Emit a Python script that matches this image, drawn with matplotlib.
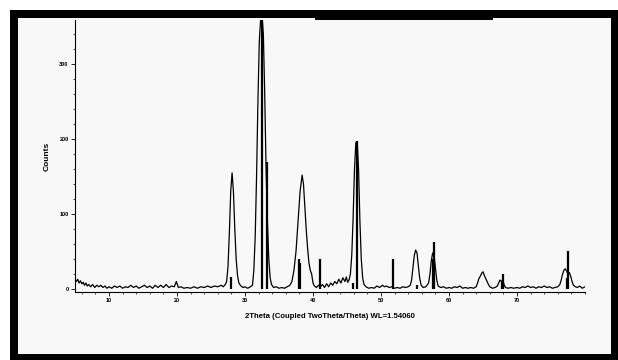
import matplotlib.pyplot as plt
from matplotlib.patches import Rectangle
from matplotlib.ticker import MultipleLocator

two_theta = [
    5.0, 5.2, 5.4, 5.6, 5.8, 6.0, 6.2, 6.4, 6.6, 6.8, 7.0, 7.3, 7.6, 7.9, 8.2,
    8.5, 8.8, 9.1, 9.4, 9.7, 10.0, 10.4, 10.8, 11.2, 11.6, 12.0, 12.4, 12.8,
    13.2, 13.6, 14.0, 14.4, 14.8, 15.2, 15.6, 16.0, 16.4, 16.8, 17.2, 17.6,
    18.0, 18.4, 18.8, 19.2, 19.6, 19.9, 20.2, 20.6, 21.0, 21.5, 22.0, 22.5,
    23.0, 23.5, 24.0, 24.5, 25.0, 25.5, 26.0, 26.5, 26.8, 27.1, 27.3, 27.5,
    27.7, 27.9, 28.1, 28.3, 28.5, 28.7, 28.9, 29.1, 29.4, 29.7, 30.0, 30.4,
    30.8, 31.1, 31.3, 31.5, 31.7, 31.9, 32.1, 32.3, 32.5, 32.7, 32.9, 33.1,
    33.3, 33.5, 33.7, 33.9, 34.2, 34.6, 35.0, 35.4, 35.8, 36.2, 36.6, 36.9,
    37.2, 37.5, 37.8, 38.1, 38.4, 38.6, 38.8, 39.0, 39.2, 39.4, 39.6, 39.8,
    40.0, 40.2, 40.5, 40.8, 41.1, 41.4, 41.7, 42.0, 42.3, 42.6, 42.9, 43.2,
    43.5, 43.8, 44.1, 44.4, 44.7, 44.9, 45.1, 45.3, 45.5, 45.7, 45.9, 46.1,
    46.3, 46.5, 46.7, 46.9, 47.1, 47.3, 47.5, 47.8, 48.2, 48.6, 49.0, 49.4,
    49.8, 50.2, 50.5, 50.8, 51.2, 51.6, 52.0, 52.4, 52.8, 53.2, 53.6, 54.0,
    54.3, 54.5, 54.7, 54.9, 55.1, 55.3, 55.5, 55.7, 55.9, 56.2, 56.6, 57.0,
    57.2, 57.4, 57.6, 57.8, 58.0, 58.2, 58.4, 58.8, 59.2, 59.6, 60.0, 60.4,
    60.8, 61.2, 61.6, 62.0, 62.4, 62.8, 63.2, 63.6, 64.0, 64.2, 64.4, 64.6,
    64.8, 65.0, 65.2, 65.4, 65.6, 65.8, 66.0, 66.4, 66.8, 67.1, 67.3, 67.5,
    67.7, 67.9, 68.1, 68.3, 68.7, 69.1, 69.5, 70.0, 70.4, 70.8, 71.2, 71.6,
    72.0, 72.4, 72.8, 73.2, 73.6, 74.0, 74.4, 74.8, 75.2, 75.6, 76.0, 76.3,
    76.5, 76.7, 76.9, 77.1, 77.3, 77.5, 77.7, 77.9, 78.1, 78.3, 78.6, 78.9,
    79.2, 79.6, 80.0,
]
counts = [
    14, 10, 13, 8, 11, 7, 9, 5, 8, 4, 6, 3, 6, 2, 5,
    3, 5, 2, 4, 1, 3, 1, 4, 2, 4, 1, 3, 2,
    5, 2, 4, 1, 3, 5, 2, 4, 1, 5, 2, 5,
    2, 6, 2, 4, 3, 10, 2, 3, 1, 2, 1, 3,
    1, 3, 2, 4, 2, 4, 3, 5, 3, 6, 10, 30,
    75, 130, 155, 130, 80, 40, 18, 8, 4, 2, 3, 1,
    3, 5, 25, 70, 150, 250, 330, 360, 365, 340, 260, 160,
    90, 40, 15, 6, 2, 3, 1, 2, 1, 3, 5, 10,
    25, 50, 90, 130, 152, 140, 110, 80, 55, 35, 25, 20,
    8, 4, 2, 5, 3, 6, 2, 7, 3, 8, 5, 10,
    7, 13, 8, 15, 10, 16, 9, 12, 20, 45, 95, 160,
    195, 197, 160, 90, 40, 15, 6, 3, 1, 2, 1, 4,
    2, 5, 3, 4, 2, 3, 1, 2, 1, 3, 2, 3,
    5, 12, 28, 45, 52, 48, 30, 14, 5, 2, 3, 8,
    20, 38, 48, 45, 28, 12, 4, 2, 3, 1, 2, 1,
    3, 2, 4, 1, 2, 1, 2, 1, 3, 8, 14, 17,
    21, 23, 18, 14, 10, 6, 3, 1, 2, 4, 8, 12,
    10, 12, 6, 2, 1, 2, 1, 2, 1, 3, 2, 4,
    2, 3, 1, 3, 2, 4, 2, 3, 1, 2, 3, 6,
    12, 20, 25, 27, 24, 20, 22, 17, 10, 5, 3, 2,
    4, 1, 3,
]

# reference pattern sticks
ref_pos = [27.95, 32.45, 33.3, 37.95, 38.15, 41.05, 45.85, 46.45, 51.7,
           55.35, 57.65, 57.8, 67.75, 67.9, 77.3, 77.5]
ref_int = [16, 360, 170, 40, 35, 40, 8, 197, 40,
           6, 40, 63, 10, 20, 15, 51]

W, H = 618, 360
fig = plt.figure(figsize=(W / 100, H / 100), dpi=100, facecolor="white")


def px_rect(x0, y0, x1, y1, color):
    fig.add_artist(Rectangle((x0 / W, 1 - y1 / H), (x1 - x0) / W, (y1 - y0) / H,
                             transform=fig.transFigure, facecolor=color,
                             edgecolor="none", zorder=0))


# frame like the screenshot
px_rect(10, 10, 618, 360, "black")
px_rect(18, 18, 611, 354, "#f8f8f8")
px_rect(315, 18, 493, 20, "black")

ax = fig.add_axes([75 / W, 1 - 292 / H, 510 / W, 272 / H])
ax.set_facecolor("none")

ax.plot(two_theta, counts, color="black", lw=0.9)
ax.vlines(ref_pos, 0, ref_int, color="black", lw=1.6)

ax.set_xlim(5, 80)
ax.set_ylim(-4, 359)

for s in ["top", "right"]:
    ax.spines[s].set_visible(False)
ax.spines["left"].set_linewidth(0.8)
ax.spines["bottom"].set_linewidth(0.8)

ax.set_xticks([10, 20, 30, 40, 50, 60, 70])
ax.xaxis.set_minor_locator(MultipleLocator(2))
ax.set_yticks([0, 100, 200, 300])
ax.yaxis.set_minor_locator(MultipleLocator(20))
ax.tick_params(which="major", length=3, width=0.6, labelsize=4, pad=1.5)
ax.tick_params(which="minor", length=1.5, width=0.5)

font = dict(family="Liberation Sans", fontweight="bold")
for lab in ax.get_xticklabels() + ax.get_yticklabels():
    lab.set_fontweight("bold")
    lab.set_family("Liberation Sans")

ax.set_xlabel("2Theta (Coupled TwoTheta/Theta) WL=1.54060", fontsize=5.6,
              labelpad=7, **font)
ax.set_ylabel("Counts", fontsize=6, labelpad=6, **font)

fig.savefig("out.png", dpi=100, facecolor="white")
